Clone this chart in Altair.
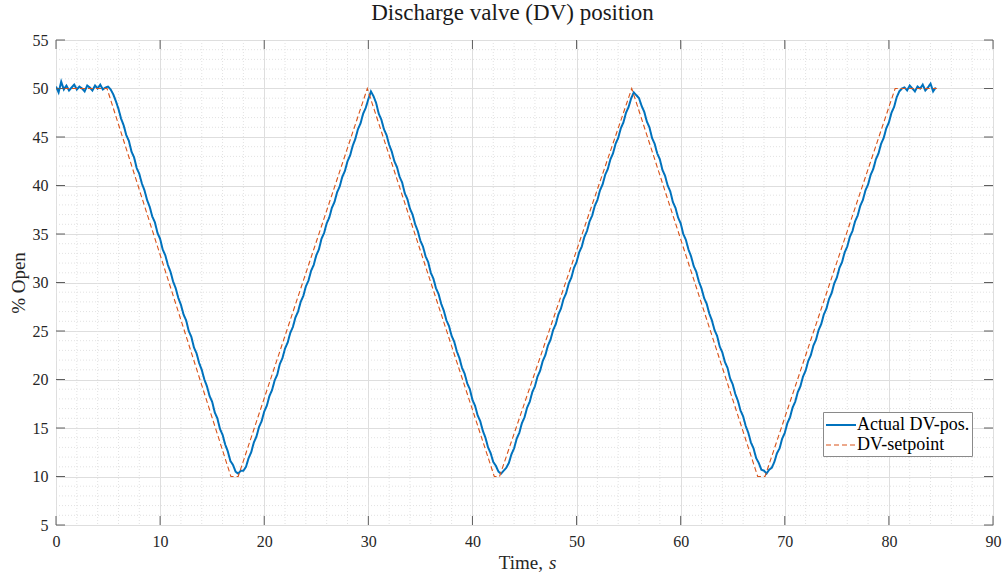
import altair as alt
import pandas as pd

title_text = "Discharge valve (DV) position"
series_names = ["Actual DV-pos.", "DV-setpoint"]
x_ticks = [0, 10, 20, 30, 40, 50, 60, 70, 80, 90]
y_ticks = [5, 10, 15, 20, 25, 30, 35, 40, 45, 50, 55]
x_minor = [v for v in range(0, 91, 2) if v % 10 != 0]
y_minor = [v for v in range(5, 56) if v % 5 != 0]

# DV setpoint (piecewise linear)
setpoint_t = [0, 4.9, 16.8, 17.5, 29.9, 42.1, 42.6, 55.3, 67.4, 68.1, 80.6, 84.6]
setpoint_v = [50, 50, 10, 10, 50, 10, 10, 50, 10, 10, 50, 50]

actual_dt = 0.25
actual_v = [
    50.2, 49.6, 50.7, 49.9, 50.3, 49.8, 50.1, 50.4, 49.9, 50.2,
    50.0, 49.7, 50.3, 50.1, 49.8, 50.3, 50.0, 50.4, 49.9, 50.1,
    50.2, 49.9, 49.4,
    48.7, 47.9, 46.9, 46.2, 45.2, 44.6, 43.5, 42.9, 41.8, 41.2, 40.2, 39.5,
    38.5, 37.8, 36.8, 36.2, 35.1, 34.5, 33.4, 32.8, 31.8, 31.1, 30.1,
    29.4, 28.4, 27.7, 26.7, 26.1, 25.0, 24.4, 23.3, 22.7, 21.7, 21.0, 20.0,
    19.3, 18.3, 17.7, 16.6, 16.0, 14.9, 14.3, 13.3, 12.6, 11.6, 11.2, 10.5,
    10.3, 10.6, 10.6,
    11.0, 11.9, 12.5, 13.5, 14.1, 15.1, 15.7, 16.7, 17.3, 18.3, 18.9, 19.9,
    20.5, 21.6, 22.2, 23.2, 23.8, 24.8, 25.4, 26.4, 27.0, 28.0, 28.6, 29.6,
    30.2, 31.2, 31.8, 32.8, 33.4, 34.5, 35.1, 36.1, 36.7, 37.7, 38.3, 39.3,
    39.9, 40.9, 41.5, 42.5, 43.1, 44.1, 44.8, 45.8, 46.4, 47.4, 48.0, 48.9,
    49.7, 49.2, 48.5,
    47.4, 46.8, 45.8, 45.2, 44.2, 43.5, 42.5, 41.9, 40.9, 40.3, 39.2,
    38.6, 37.6, 37.0, 36.0, 35.3, 34.3, 33.7, 32.7, 32.1, 31.0, 30.4,
    29.4, 28.8, 27.8, 27.1, 26.1, 25.5, 24.5, 23.9, 22.9, 22.2, 21.2, 20.6,
    19.6, 19.0, 17.9, 17.3, 16.3, 15.7, 14.7, 14.0, 13.0, 12.4, 11.5, 11.1,
    10.5, 10.3, 10.6, 10.9,
    11.4, 12.3, 12.9, 13.9, 14.5, 15.5, 16.1, 17.1, 17.7, 18.7, 19.3, 20.3,
    20.9, 21.9, 22.5, 23.5, 24.1, 25.1, 25.7, 26.7, 27.3, 28.3, 28.9, 29.9,
    30.5, 31.5, 32.1, 33.1, 33.7, 34.7, 35.3, 36.3, 36.9, 37.9, 38.5, 39.5,
    40.1, 41.1, 41.7, 42.7, 43.3, 44.3, 44.9, 45.9, 46.5, 47.5, 48.1, 49.0,
    49.6, 49.3,
    49.0, 48.2, 47.6, 46.6, 46.0, 44.9, 44.3, 43.3, 42.7, 41.6, 41.0, 40.0,
    39.4, 38.3, 37.7, 36.7, 36.1, 35.0, 34.4, 33.4, 32.7, 31.7, 31.1, 30.1,
    29.4, 28.4, 27.8, 26.8, 26.1, 25.1, 24.5, 23.4, 22.8, 21.8, 21.2, 20.1,
    19.5, 18.5, 17.8, 16.8, 16.2, 15.2, 14.5, 13.5, 12.9, 11.9, 11.4, 10.7,
    10.6, 10.3, 10.7, 10.9,
    11.5, 12.4, 12.9, 13.9, 14.5, 15.5, 16.1, 17.1, 17.7, 18.7, 19.3, 20.3,
    20.9, 21.9, 22.5, 23.5, 24.1, 25.1, 25.7, 26.7, 27.3, 28.3, 28.9, 29.9,
    30.5, 31.5, 32.1, 33.1, 33.7, 34.7, 35.3, 36.3, 36.9, 37.9, 38.5, 39.5,
    40.1, 41.1, 41.7, 42.7, 43.3, 44.3, 44.9, 45.9, 46.5, 47.5, 48.1, 49.1,
    49.7, 50.0,
    50.1, 49.8, 50.3, 50.0, 49.7, 50.2, 50.0, 50.4, 49.8, 50.1, 50.5, 49.7, 50.1,
]

rows = []
for i, v in enumerate(actual_v):
    rows.append({"t": round(i * actual_dt, 2), "v": v, "series": series_names[0]})
for t, v in zip(setpoint_t, setpoint_v):
    rows.append({"t": t, "v": v, "series": series_names[1]})
df = pd.DataFrame(rows)

W, H = 937, 485
FONT = "Liberation Serif"
BOX = "#5f5f5f"

x_scale = alt.Scale(domain=[0, 90], nice=False, zero=False)
y_scale = alt.Scale(domain=[5, 55], nice=False, zero=False)

x_axis = alt.Axis(
    values=x_ticks, title=None, grid=True, gridColor="#dedede",
    ticks=False, domain=False, labelPadding=8, labelFont=FONT,
    labelFontSize=16, labelColor="#262626", labelFlush=False)
y_axis = alt.Axis(
    values=y_ticks, title="% Open", grid=True, gridColor="#dedede",
    ticks=False, domain=False, labelPadding=8, labelFont=FONT,
    labelFontSize=16, labelColor="#262626", labelFlush=False,
    titleFont=FONT, titleFontSize=19, titleFontWeight="normal",
    titleColor="#262626", titlePadding=4)


def X(field):
    return alt.X(field, scale=x_scale, axis=x_axis, title=None)


def Y(field):
    return alt.Y(field, scale=y_scale, axis=y_axis, title="% Open")


minor_x = alt.Chart(pd.DataFrame({"t": x_minor})).mark_rule(
    color="#e2e2e2", strokeDash=[1, 2], strokeWidth=1
).encode(x=X("t:Q"))
minor_y = alt.Chart(pd.DataFrame({"v": y_minor})).mark_rule(
    color="#e2e2e2", strokeDash=[1, 2], strokeWidth=1
).encode(y=Y("v:Q"))

legend = alt.Legend(
    title=None, orient="none", legendX=767, legendY=372,
    fillColor="white", strokeColor="#8a8a8a", padding=2,
    symbolType="M-1,0H2", symbolSize=400, symbolStrokeWidth=1.2,
    labelFont=FONT, labelFontSize=18, labelColor="black",
    rowPadding=0, labelOffset=10, labelLimit=300,
)

lines = alt.Chart(df).mark_line(clip=True).encode(
    x=X("t:Q"),
    y=Y("v:Q"),
    color=alt.Color("series:N", scale=alt.Scale(domain=series_names,
                    range=["#0072BD", "#D95319"]), legend=legend),
    strokeDash=alt.StrokeDash("series:N", scale=alt.Scale(domain=series_names,
                              range=[[1, 0], [5, 3]]), legend=legend),
    strokeWidth=alt.StrokeWidth("series:N", scale=alt.Scale(domain=series_names,
                                range=[2.0, 1.1]), legend=None),
)

xt = pd.DataFrame({"t": x_ticks})
yt = pd.DataFrame({"v": y_ticks})
tick_top = alt.Chart(xt).mark_rule(color=BOX).encode(
    x=X("t:Q"), y=alt.value(0), y2=alt.value(9))
tick_bot = alt.Chart(xt).mark_rule(color=BOX).encode(
    x=X("t:Q"), y=alt.value(H - 9), y2=alt.value(H))
tick_left = alt.Chart(yt).mark_rule(color=BOX).encode(
    y=Y("v:Q"), x=alt.value(0), x2=alt.value(9))
tick_right = alt.Chart(yt).mark_rule(color=BOX).encode(
    y=Y("v:Q"), x=alt.value(W - 9), x2=alt.value(W))

one = pd.DataFrame({"a": [0]})
xtitle_a = alt.Chart(one).mark_text(
    text="Time,", font=FONT, fontSize=19, align="right", baseline="middle",
    color="#262626").encode(x=alt.value(487), y=alt.value(H + 38))
xtitle_b = alt.Chart(one).mark_text(
    text="s", font=FONT, fontSize=19, fontStyle="italic", align="left",
    baseline="middle", color="#262626").encode(x=alt.value(493), y=alt.value(H + 38))

chart = alt.layer(
    minor_x, minor_y, lines, tick_top, tick_bot, tick_left, tick_right,
    xtitle_a, xtitle_b
).properties(
    width=W, height=H,
    title=alt.TitleParams(title_text, font=FONT, fontSize=23,
                          fontWeight="normal", color="#1a1a1a", offset=7, dx=-12),
    autosize=alt.AutoSizeParams(type="none"),
    padding={"left": 56, "top": 40, "right": 11, "bottom": 47},
).configure_view(
    stroke=BOX, strokeWidth=1
).configure(background="white")

chart.save("out.html", embed_options={"renderer": "svg", "actions": False})
